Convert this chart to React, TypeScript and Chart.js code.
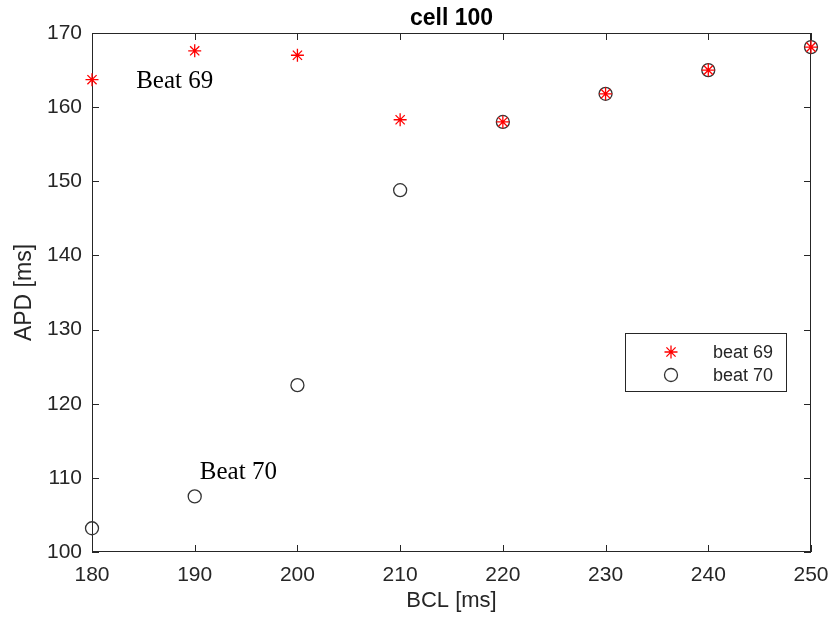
import React, { useEffect, useRef } from 'react';
import { Chart, registerables } from 'chart.js';

Chart.register(...registerables);

// ---- data ----
const BCL = [180, 190, 200, 210, 220, 230, 240, 250];
const BEAT69 = [163.7, 167.6, 167.0, 158.3, 158.0, 161.8, 165.0, 168.1];
const BEAT70 = [103.2, 107.5, 122.5, 148.8, 158.0, 161.8, 165.0, 168.1];
const SERIES_LABELS = ['beat 69', 'beat 70'];
const X_MIN = 180;
const X_MAX = 250;
const Y_MIN = 100;
const Y_MAX = 170;
const TICK_STEP = 10;
const TITLE = 'cell 100';
const X_LABEL = 'BCL [ms]';
const Y_LABEL = 'APD [ms]';
const NOTE_TEXTS = ['Beat 69', 'Beat 70'];
const NOTE_X = [184.3, 190.5];
const NOTE_Y = [162.6, 109.8];

const AXIS_COLOR = '#262626';
const SANS = '"Liberation Sans", Arial, sans-serif';
const SERIF = '"Liberation Serif", "Times New Roman", serif';

const framePlugin = {
  id: 'matlabFrame',
  beforeDatasetsDraw(chart: any) {
    const { ctx, chartArea: a, scales } = chart;
    ctx.save();
    ctx.strokeStyle = AXIS_COLOR;
    ctx.lineWidth = 1;
    ctx.strokeRect(a.left + 0.5, a.top + 0.5, a.right - a.left - 1, a.bottom - a.top - 1);
    const tl = 7;
    ctx.beginPath();
    scales.x.ticks.forEach((t: any) => {
      const px = Math.round(scales.x.getPixelForValue(t.value)) + 0.5;
      ctx.moveTo(px, a.bottom);
      ctx.lineTo(px, a.bottom - tl);
      ctx.moveTo(px, a.top);
      ctx.lineTo(px, a.top + tl);
    });
    scales.y.ticks.forEach((t: any) => {
      const py = Math.round(scales.y.getPixelForValue(t.value)) + 0.5;
      ctx.moveTo(a.left, py);
      ctx.lineTo(a.left + tl, py);
      ctx.moveTo(a.right, py);
      ctx.lineTo(a.right - tl, py);
    });
    ctx.stroke();
    // title centred over the plot area
    ctx.fillStyle = '#000';
    ctx.font = `bold 23px ${SANS}`;
    ctx.textAlign = 'center';
    ctx.textBaseline = 'middle';
    ctx.fillText(TITLE, (a.left + a.right) / 2, a.top - 14);
    ctx.restore();
  },
  afterDraw(chart: any) {
    const { ctx, chartArea: a, scales } = chart;
    ctx.save();
    // annotations
    ctx.fillStyle = '#000';
    ctx.font = `25px ${SERIF}`;
    ctx.textAlign = 'left';
    ctx.textBaseline = 'alphabetic';
    NOTE_TEXTS.forEach((txt, i) => {
      ctx.fillText(txt, scales.x.getPixelForValue(NOTE_X[i]), scales.y.getPixelForValue(NOTE_Y[i]));
    });
    // legend
    const bx = a.right - 186;
    const by = a.top + 300;
    const bw = 161;
    const bh = 58;
    ctx.fillStyle = '#fff';
    ctx.fillRect(bx, by, bw, bh);
    ctx.strokeStyle = AXIS_COLOR;
    ctx.lineWidth = 1;
    ctx.strokeRect(bx + 0.5, by + 0.5, bw, bh);
    chart.data.datasets.forEach((ds: any, i: number) => {
      const cy = by + 19 + i * 23;
      const cx = bx + 46;
      ctx.strokeStyle = ds.borderColor;
      ctx.lineWidth = ds.borderWidth;
      ctx.beginPath();
      if (ds.pointStyle === 'star') {
        const r = ds.pointRadius;
        const d = r * Math.SQRT1_2;
        ctx.moveTo(cx - r, cy); ctx.lineTo(cx + r, cy);
        ctx.moveTo(cx, cy - r); ctx.lineTo(cx, cy + r);
        ctx.moveTo(cx - d, cy - d); ctx.lineTo(cx + d, cy + d);
        ctx.moveTo(cx - d, cy + d); ctx.lineTo(cx + d, cy - d);
      } else {
        ctx.arc(cx, cy, ds.pointRadius, 0, Math.PI * 2);
      }
      ctx.stroke();
      ctx.fillStyle = AXIS_COLOR;
      ctx.font = `18px ${SANS}`;
      ctx.textAlign = 'left';
      ctx.textBaseline = 'middle';
      ctx.fillText(ds.label, bx + 88, cy + 1);
    });
    ctx.restore();
  },
};

export default function App() {
  const ref = useRef<HTMLCanvasElement>(null);
  useEffect(() => {
    if (!ref.current) return;
    const chart = new Chart(ref.current, {
      type: 'scatter',
      data: {
        datasets: [
          {
            label: SERIES_LABELS[0],
            data: BCL.map((x, i) => ({ x, y: BEAT69[i] })),
            pointStyle: 'star',
            pointRadius: 6.5,
            borderColor: '#ff0000',
            backgroundColor: '#ff0000',
            borderWidth: 1.3,
            clip: false,
          },
          {
            label: SERIES_LABELS[1],
            data: BCL.map((x, i) => ({ x, y: BEAT70[i] })),
            pointStyle: 'circle',
            pointRadius: 6.5,
            borderColor: '#333333',
            backgroundColor: 'rgba(0,0,0,0)',
            borderWidth: 1.3,
            clip: false,
          },
        ],
      },
      options: {
        animation: false,
        responsive: false,
        events: [],
        layout: { padding: { left: 0, right: 20, top: 33, bottom: 0 } },
        plugins: {
          legend: { display: false },
          tooltip: { enabled: false },
          title: { display: false },
        },
        scales: {
          x: {
            type: 'linear',
            min: X_MIN,
            max: X_MAX,
            grid: { display: false, drawTicks: false },
            border: { display: false },
            ticks: { stepSize: TICK_STEP, color: AXIS_COLOR, padding: 11, font: { family: SANS, size: 21 } },
            title: {
              display: true,
              text: X_LABEL,
              color: AXIS_COLOR,
              font: { family: SANS, size: 22 },
              padding: { top: 0, bottom: 4 },
            },
            afterFit: (s: any) => { s.height = 66; s.paddingLeft = 0; s.paddingRight = 0; },
          },
          y: {
            type: 'linear',
            min: Y_MIN,
            max: Y_MAX,
            grid: { display: false, drawTicks: false },
            border: { display: false },
            ticks: { stepSize: TICK_STEP, color: AXIS_COLOR, padding: 10, font: { family: SANS, size: 21 } },
            title: {
              display: true,
              text: Y_LABEL,
              color: AXIS_COLOR,
              font: { family: SANS, size: 23 },
              padding: { top: 11, bottom: 0 },
            },
            afterFit: (s: any) => { s.width = 92; s.paddingTop = 0; s.paddingBottom = 0; },
          },
        },
      } as any,
      plugins: [framePlugin],
    });
    return () => chart.destroy();
  }, []);
  return (
    <div style={{ position: 'fixed', left: 0, top: 0, width: 831, height: 618, background: '#fff' }}>
      <canvas ref={ref} width={831} height={618} />
    </div>
  );
}
